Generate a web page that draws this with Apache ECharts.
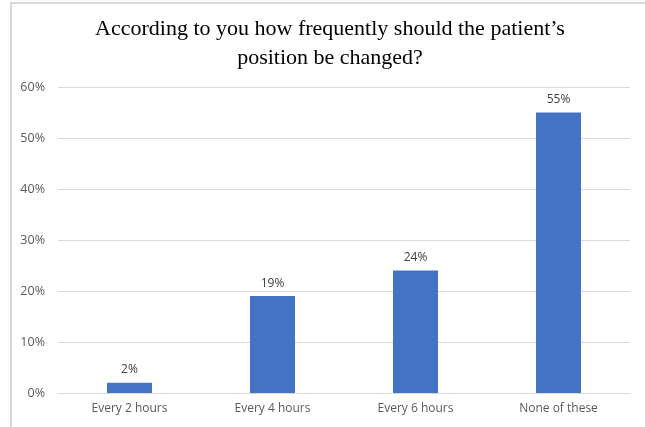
<!DOCTYPE html>
<html>
<head>
<meta charset="utf-8">
<script src="https://cdn.jsdelivr.net/npm/echarts@6/dist/echarts.min.js"></script>
<style>html,body{margin:0;padding:0;background:#fff;}#c{width:645px;height:427px;}</style>
</head>
<body>
<div id="c"></div>
<script>
const titleText = "According to you how frequently should the patient’s\nposition be changed?";
const categories = ["Every 2 hours", "Every 4 hours", "Every 6 hours", "None of these"];
const values = [2, 19, 24, 55];
const yTicks = [0, 10, 20, 30, 40, 50, 60];

const chart = echarts.init(document.getElementById('c'), null, {renderer: 'canvas'});
chart.setOption({
  animation: false,
  backgroundColor: '#fff',
  graphic: [{
    type: 'rect', shape: {x: 11, y: 3, width: 700, height: 500},
    style: {fill: 'none', stroke: '#d9d9d9', lineWidth: 2}, silent: true
  }],
  title: {
    text: titleText, left: 325, top: 10, textAlign: 'center',
    textStyle: {fontFamily: 'Liberation Serif', fontSize: 22, fontWeight: 'normal', color: '#000', lineHeight: 29}
  },
  grid: {left: 58, right: 15, top: 87, bottom: 34, containLabel: false},
  xAxis: {
    type: 'category', data: categories,
    axisLine: {lineStyle: {color: '#d9d9d9', width: 1}},
    axisTick: {show: false},
    axisLabel: {color: '#595959', fontFamily: 'Open Sans', fontSize: 12, margin: 10}
  },
  yAxis: {
    type: 'value', min: yTicks[0], max: yTicks[yTicks.length - 1], interval: 10,
    axisLine: {show: false}, axisTick: {show: false},
    splitLine: {lineStyle: {color: '#d9d9d9', width: 1}},
    axisLabel: {color: '#595959', fontFamily: 'Open Sans', fontSize: 12.5, margin: 13, formatter: v => v + '%'}
  },
  series: [{
    type: 'bar', data: values, barWidth: 45,
    itemStyle: {color: '#4472C4'},
    label: {show: true, position: 'top', distance: 7, color: '#404040', fontFamily: 'Open Sans', fontSize: 12, formatter: p => p.value + '%'}
  }]
});
</script>
</body>
</html>
